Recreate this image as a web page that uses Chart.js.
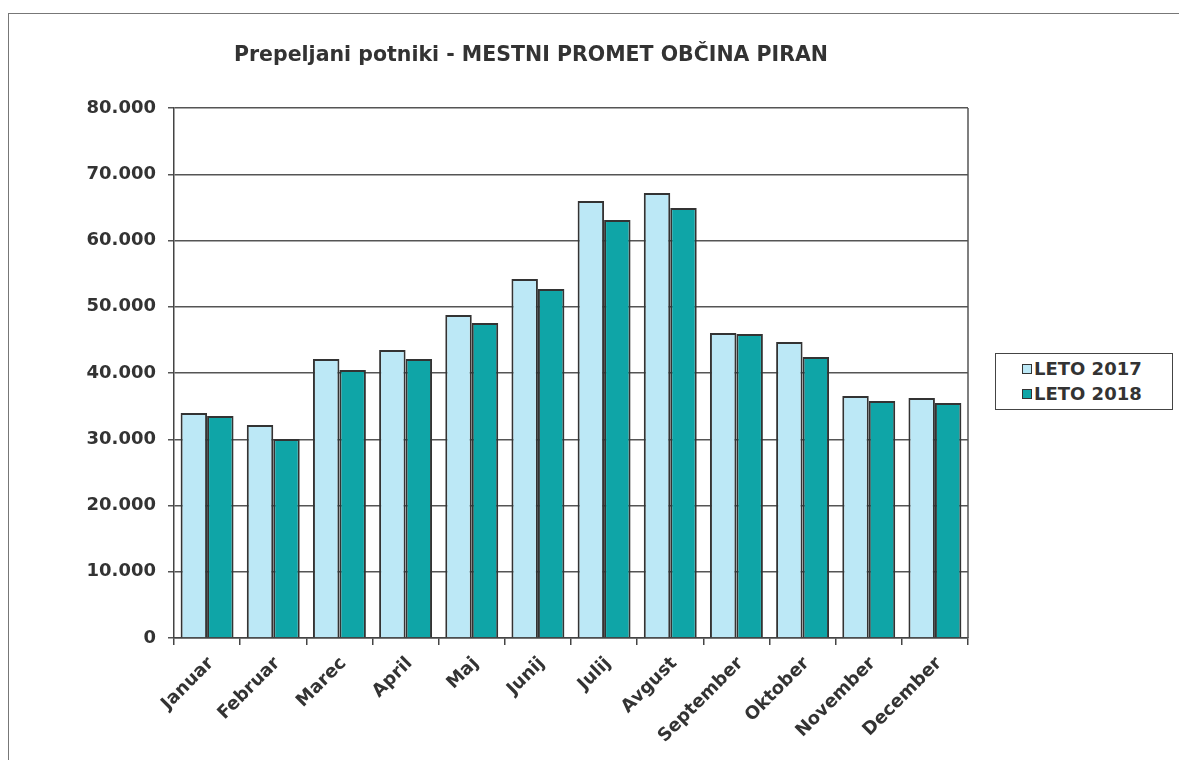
<!DOCTYPE html>
<html>
<head>
<meta charset="utf-8">
<script src="https://cdn.jsdelivr.net/npm/chart.js@4.4.1/dist/chart.umd.min.js"></script>
<style>
  html, body { margin: 0; padding: 0; background: #fff; }
  #wrap { position: relative; width: 1179px; height: 760px; overflow: hidden; }
  #frame { position: absolute; left: 8px; top: 13px; width: 1300px; height: 900px; border: 1.5px solid #777; box-sizing: border-box; }
  #chart { position: absolute; left: 0; top: 0; }
  #title {
    position: absolute; left: 131px; width: 800px; top: 42px; text-align: center;
    font: bold 20.5px "DejaVu Sans", sans-serif; color: #333; white-space: nowrap;
  }
  #legend {
    position: absolute; left: 995px; top: 353px; width: 178px; height: 57px;
    border: 1.5px solid #444; box-sizing: border-box; background: #fff;
    font: bold 18px "DejaVu Sans", sans-serif; color: #333;
    padding: 2px 0 0 26px;
  }
  #legend div { height: 25px; line-height: 25px; white-space: nowrap; }
  #legend span { display: inline-block; width: 8px; height: 8px; border: 1.5px solid #333; margin-right: 2px; vertical-align: 1px; }
</style>
</head>
<body>
<div id="wrap">
  <div id="frame"></div>
  <canvas id="chart" width="1179" height="760"></canvas>
  <div id="title">Prepeljani potniki - MESTNI PROMET OBČINA PIRAN</div>
  <div id="legend"></div>
</div>
<script>
// ====== Data ======
const MONTHS = ["Januar", "Februar", "Marec", "April", "Maj", "Junij", "Julij", "Avgust", "September", "Oktober", "November", "December"];
const LETO_2017 = [33960, 32150, 42110, 43470, 48750, 54190, 65960, 67170, 46040, 44680, 36530, 36230];
const LETO_2018 = [33510, 30040, 40450, 42110, 47550, 52680, 63090, 64900, 45890, 42420, 35770, 35470];
const SERIES_NAMES = ["LETO 2017", "LETO 2018"];
const Y_MAX = 80000;
const Y_STEP = 10000;

const FONT = "'DejaVu Sans', sans-serif";
const COLORS = ["#bce8f6", "#0fa5a7"];

// right edge of the plot area
const plotFrame = {
  id: 'plotFrame',
  afterDraw(chart) {
    const { ctx, chartArea: a } = chart;
    ctx.save();
    ctx.strokeStyle = '#555';
    ctx.lineWidth = 1.5;
    ctx.beginPath();
    ctx.moveTo(a.right, a.top);
    ctx.lineTo(a.right, a.bottom);
    ctx.stroke();
    ctx.restore();
  }
};

const ctx = document.getElementById('chart').getContext('2d');
const chart = new Chart(ctx, {
  type: 'bar',
  data: {
    labels: MONTHS,
    datasets: [LETO_2017, LETO_2018].map((d, i) => ({
      label: SERIES_NAMES[i],
      data: d,
      backgroundColor: COLORS[i],
      borderColor: '#333',
      borderWidth: 2,
      categoryPercentage: 0.8,
      barPercentage: 1.0
    }))
  },
  options: {
    responsive: false,
    animation: false,
    layout: { padding: { left: 0, right: 211, top: 108, bottom: 0 } },
    plugins: {
      legend: { display: false },
      tooltip: { enabled: false },
      title: { display: false }
    },
    scales: {
      x: {
        grid: { drawOnChartArea: false, color: '#444', tickLength: 7, lineWidth: 1.5 },
        border: { color: '#444', width: 1.5 },
        ticks: {
          color: '#333', maxRotation: 45, minRotation: 45, padding: 8, labelOffset: 4,
          font: { family: FONT, size: 18, weight: 'bold' }
        },
        afterFit(s) { s.height = 122; }
      },
      y: {
        min: 0, max: Y_MAX,
        grid: { color: '#555', lineWidth: 1.5, tickLength: 6 },
        border: { color: '#444', width: 1.5 },
        ticks: {
          stepSize: Y_STEP, color: '#333', padding: 12,
          font: { family: FONT, size: 18, weight: 'bold' },
          callback: v => v === 0 ? '0' : (v / 1000) + '.000'
        },
        afterFit(s) { s.width = 174; }
      }
    }
  },
  plugins: [plotFrame]
});

// ====== Legend ======
document.getElementById('legend').innerHTML = chart.data.datasets.map(ds =>
  `<div><span style="background:${ds.backgroundColor}"></span>${ds.label}</div>`).join('');
</script>
</body>
</html>
